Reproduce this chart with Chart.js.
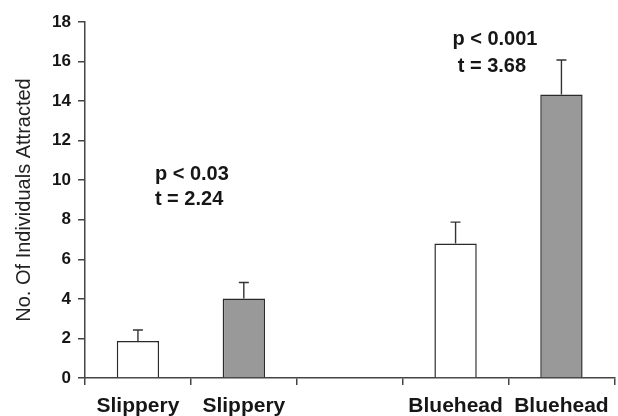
<!DOCTYPE html>
<html>
<head>
<meta charset="utf-8">
<script src="https://cdn.jsdelivr.net/npm/chart.js@4.4.1/dist/chart.umd.min.js"></script>
<style>
  html, body { margin: 0; padding: 0; background: #fff; }
  #wrap { width: 618px; height: 416px; }
</style>
</head>
<body>
<div id="wrap"><canvas id="chart"></canvas></div>
<script>
/* ===== data ===== */
const categories = ['Slippery', 'Slippery', '', 'Bluehead', 'Bluehead'];
const meanValues = [1.87, 4.02, null, 6.80, 14.34];
const errValues  = [0.56, 0.81, null, 1.08, 1.74];
const barFills   = ['#ffffff', '#999999', '#ffffff', '#ffffff', '#999999'];
const yTicks     = { min: 0, max: 18, step: 2 };

// stat labels, anchored in data units (x = category index, y = value at baseline)
const statLabels = [
  { lines: ['p < 0.03', 't = 2.24'], x: [0.16, 0.16], y: [10.0, 8.74] },
  { lines: ['p < 0.001', 't = 3.68'], x: [2.97, 3.02], y: [16.84, 15.49] }
];

const FONT = "'Liberation Sans', Arial, Helvetica, sans-serif";
const INK = '#161616';
const AXIS = '#444';

/* ===== plugins ===== */
const errorBars = {
  id: 'errorBars',
  afterDatasetsDraw(chart) {
    const ctx = chart.ctx;
    const yScale = chart.scales.y;
    const meta = chart.getDatasetMeta(0);
    ctx.save();
    ctx.strokeStyle = '#333';
    ctx.lineWidth = 1.4;
    meta.data.forEach((bar, i) => {
      if (meanValues[i] == null) return;
      const yTop = yScale.getPixelForValue(meanValues[i] + errValues[i]);
      ctx.beginPath();
      ctx.moveTo(bar.x, bar.y);
      ctx.lineTo(bar.x, yTop);
      ctx.moveTo(bar.x - 5, yTop);
      ctx.lineTo(bar.x + 5, yTop);
      ctx.stroke();
    });
    ctx.restore();
  }
};

const statText = {
  id: 'statText',
  afterDraw(chart) {
    const ctx = chart.ctx;
    const xs = chart.scales.x, ys = chart.scales.y;
    ctx.save();
    ctx.fillStyle = INK;
    ctx.font = 'bold 20px ' + FONT;
    ctx.textAlign = 'left';
    ctx.textBaseline = 'alphabetic';
    statLabels.forEach(s => {
      s.lines.forEach((txt, k) => {
        ctx.fillText(txt, xs.getPixelForValue(s.x[k]), ys.getPixelForValue(s.y[k]));
      });
    });
    ctx.restore();
  }
};

/* ===== chart ===== */
new Chart(document.getElementById('chart'), {
  type: 'bar',
  data: {
    labels: categories,
    datasets: [{
      data: meanValues,
      backgroundColor: barFills,
      borderColor: '#2a2a2a',
      borderWidth: 1.5,
      barPercentage: 0.4,
      categoryPercentage: 1.0
    }]
  },
  options: {
    responsive: true,
    maintainAspectRatio: false,
    animation: false,
    layout: { padding: { top: 22, right: 3, left: 0, bottom: 0 } },
    plugins: {
      legend: { display: false },
      tooltip: { enabled: false }
    },
    scales: {
      x: {
        offset: true,
        afterFit: s => { s.height = 38; },
        grid: {
          display: true,
          offset: true,
          drawOnChartArea: false,
          color: AXIS,
          lineWidth: 1.5,
          tickLength: 7
        },
        border: { display: true, color: AXIS, width: 1.5 },
        ticks: {
          color: INK,
          font: { family: FONT, size: 21, weight: 'bold' },
          padding: 9,
          maxRotation: 0,
          autoSkip: false
        }
      },
      y: {
        min: yTicks.min,
        max: yTicks.max,
        afterFit: s => { s.width = 85; },
        grid: {
          display: true,
          drawOnChartArea: false,
          color: AXIS,
          lineWidth: 1.5,
          tickLength: 7
        },
        border: { display: true, color: AXIS, width: 1.5 },
        ticks: {
          stepSize: yTicks.step,
          color: INK,
          font: { family: FONT, size: 17, weight: 'bold' },
          padding: 7
        },
        title: {
          display: true,
          text: 'No. Of Individuals Attracted',
          color: '#222',
          font: { family: FONT, size: 20, weight: 'normal' },
          padding: { top: 12, bottom: 0 }
        }
      }
    }
  },
  plugins: [errorBars, statText]
});
</script>
</body>
</html>
